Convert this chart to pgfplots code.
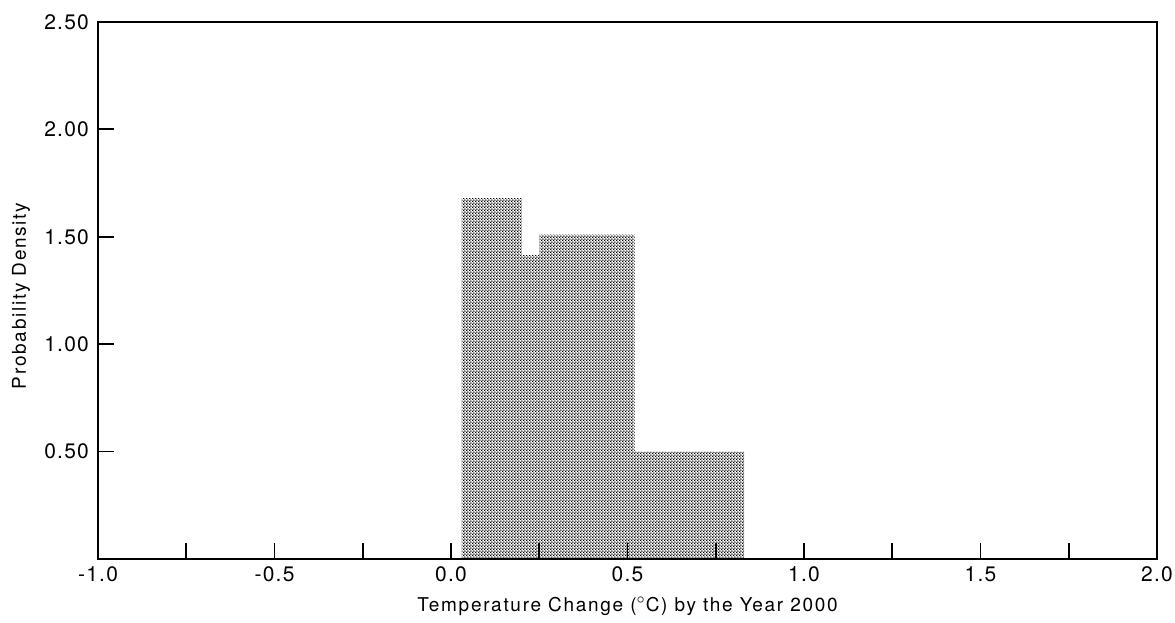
\documentclass[border=0pt]{standalone}
\usepackage{fontspec}
\setmainfont{TeX Gyre Heros}
\newfontfamily\lblfont[LetterSpace=9]{TeX Gyre Heros}
\newfontfamily\tickfont[LetterSpace=6]{TeX Gyre Heros}
\usepackage{pgfplots}
\pgfplotsset{compat=1.18}
\usetikzlibrary{patterns,calc}
\pgfdeclarepatternformonly{stipple}{\pgfpointorigin}{\pgfpoint{1.6pt}{1.6pt}}{\pgfpoint{1.6pt}{1.6pt}}{%
  \pgfpathcircle{\pgfpoint{0.4pt}{0.4pt}}{0.5pt}%
  \pgfpathcircle{\pgfpoint{1.2pt}{1.2pt}}{0.5pt}%
  \pgfusepath{fill}}
\begin{document}
\begin{tikzpicture}
\begin{axis}[
  name=ax,
  scale only axis,
  width=529.5pt, height=268.5pt,
  xmin=-1, xmax=2, ymin=0, ymax=2.5,
  axis line style={line width=0.9pt},
  tick style={line width=0.9pt, black},
  tick align=inside,
  tick pos=left,
  major tick length=8pt,
  minor tick length=8pt,
  xtick={-1,-0.5,0,0.5,1,1.5,2},
  minor xtick={-0.75,-0.25,0.25,0.75,1.25,1.75},
  ytick={0.5,1,1.5,2,2.5},
  xticklabels={-1.0,-0.5,0.0,0.5,1.0,1.5,2.0},
  yticklabels={0.50,1.00,1.50,2.00,2.50},
  ticklabel style={font=\tickfont\fontsize{10.5}{12}\selectfont},
  xticklabel style={yshift=-2.5pt, inner ysep=1pt},
  yticklabel style={xshift=-1pt},
  xlabel={Temperature Change ($^{\circ}$C) by the Year 2000},
  ylabel={Probability Density},
  label style={font=\lblfont\fontsize{9.5}{11}\selectfont, inner sep=1pt},
  xlabel style={at={(axis description cs:0.5,-0.0875)}, anchor=center},
  ylabel style={at={(axis description cs:-0.0727,0.49)}, anchor=center},
  clip=false,
]
\addplot[const plot, draw=none, pattern=stipple, pattern color=black] coordinates {
 (0.03,0) (0.03,1.68) (0.2,1.415) (0.25,1.51) (0.52,0.50) (0.83,0)
} \closedcycle;
\end{axis}
\pgfresetboundingbox
\path ($(ax.south west)+(-49pt,-32pt)$) rectangle ($(ax.north east)+(9pt,11pt)$);
\end{tikzpicture}
\end{document}
